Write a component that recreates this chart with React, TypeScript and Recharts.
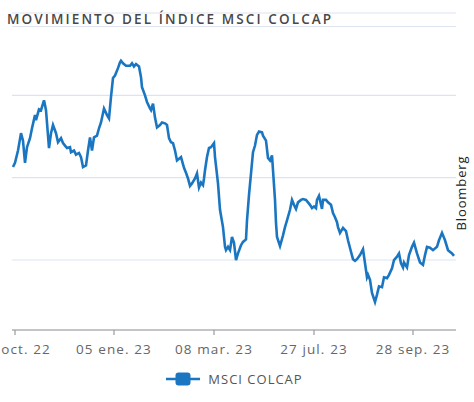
import React from 'react';
import { LineChart, Line, XAxis, YAxis, CartesianGrid, Legend } from 'recharts';

// observation index (trading sessions, relative scale)
const days = [
  1, 3, 6, 9, 11, 13, 15, 18, 20, 23, 24, 27, 29, 32, 34, 37, 39, 41, 44, 46, 49, 51, 53, 55, 58, 59, 62, 64, 67, 69,
  71, 74, 76, 78, 80, 82, 85, 87, 89, 92, 95, 97, 99, 101, 103, 106, 108, 109, 111, 114, 118, 120, 122, 124, 127,
  129, 130, 133, 135, 138, 139, 141, 143, 145, 148, 150, 153, 155, 157, 159, 161, 163, 165, 168, 169, 172, 174, 176,
  178, 180, 183, 185, 187, 189, 191, 192, 193, 195, 197, 199, 202, 203, 206, 208, 211, 213, 214, 216, 218, 220, 222,
  224, 226, 229, 231, 234, 235, 237, 239, 241, 243, 245, 247, 250, 251, 254, 256, 258, 260, 261, 263, 264, 265, 268,
  271, 273, 275, 278, 280, 282, 284, 286, 289, 291, 294, 296, 298, 300, 302, 304, 305, 307, 310, 311, 314, 316, 319,
  321, 323, 325, 326, 328, 331, 334, 336, 339, 341, 343, 345, 348, 351, 353, 355, 356, 358, 360, 363, 365, 367, 370,
  372, 375, 377, 380, 382, 385, 387, 389, 391, 392, 395, 397, 400, 402, 405, 408, 411, 413, 415, 418, 421, 425, 427,
  430, 433, 436, 440, 442,
];

const colcap = [
  1113, 1118, 1133, 1154, 1145, 1118, 1137, 1148, 1160, 1176, 1170, 1183, 1182, 1194, 1182, 1136, 1154, 1164, 1154,
  1143, 1148, 1142, 1139, 1136, 1137, 1131, 1133, 1128, 1130, 1125, 1113, 1115, 1133, 1149, 1133, 1149, 1151, 1160,
  1167, 1184, 1176, 1172, 1198, 1221, 1224, 1233, 1240, 1242, 1239, 1236, 1236, 1239, 1235, 1238, 1235,
  1222, 1210, 1200, 1192, 1184, 1182, 1190, 1173, 1161, 1164, 1167, 1166, 1164, 1148, 1143, 1142, 1133, 1121, 1124,
  1125, 1112, 1106, 1099, 1090, 1093, 1099, 1105, 1088, 1094, 1091, 1099, 1109, 1125, 1136, 1137, 1142, 1125, 1093,
  1061, 1040, 1016, 1012, 1016, 1012, 1028, 1021, 1000, 1008, 1018, 1022, 1025, 1048, 1079, 1105, 1131, 1139, 1152,
  1156, 1155, 1151, 1145, 1124, 1121, 1127, 1109, 1073, 1045, 1028, 1017, 1030, 1040, 1048, 1061, 1073, 1067, 1062,
  1070, 1073, 1074, 1073, 1070, 1067, 1063, 1065, 1063, 1073, 1078, 1062, 1073, 1073, 1070, 1067, 1057, 1052, 1046,
  1040, 1033, 1039, 1035, 1024, 1010, 1001, 999, 1001, 1006, 1013, 996, 979, 982, 976, 960, 949, 958, 968, 967, 979,
  978, 982, 990, 1000, 1004, 1008, 996, 991, 997, 991, 1006, 1016, 1021, 1008, 997, 994, 1006, 1016, 1015, 1012,
  1016, 1024, 1033, 1024, 1012, 1008, 1005,
];

const tickDays = [3, 102, 202, 302, 401];
const tickLabels = ['20 oct. 22', '05 ene. 23', '08 mar. 23', '27 jul. 23', '28 sep. 23'];
const gridValues = [1000, 1100, 1200];
const seriesName = 'MSCI COLCAP';
const title = 'MOVIMIENTO DEL ÍNDICE MSCI COLCAP';
const source = 'Bloomberg';

const data = days.map((d, i) => ({ d, v: colcap[i] }));

const BLUE = '#1b76c2';
const FONT = '"Open Sans", "DejaVu Sans", sans-serif';

const LegendContent = () => (
  <div style={{ display: 'flex', alignItems: 'center', justifyContent: 'center', height: 30 }}>
    <svg width={36} height={16} style={{ marginRight: 7 }}>
      <line x1={1} y1={8} x2={35} y2={8} stroke={BLUE} strokeWidth={2.5} />
      <rect x={10.5} y={1.5} width={15} height={13} rx={3} fill={BLUE} />
    </svg>
    <span style={{ fontFamily: FONT, fontSize: 13, letterSpacing: 1, color: '#555' }}>{seriesName}</span>
  </div>
);

export default function App() {
  const labelFor = (t: number) => tickLabels[tickDays.indexOf(t)] ?? '';
  return (
    <div style={{ position: 'absolute', left: 0, top: 0, width: 474, height: 402, background: '#fff', overflow: 'hidden' }}>
      <div
        style={{
          position: 'absolute',
          left: 7,
          top: 11,
          fontFamily: FONT,
          fontWeight: 600,
          fontSize: 13.5,
          letterSpacing: 2.1,
          lineHeight: '16px',
          color: '#484848',
          whiteSpace: 'nowrap',
          zIndex: 2,
        }}
      >
        {title}
      </div>
      <div style={{ position: 'absolute', left: 12, top: 26, width: 444, height: 1, background: '#dfe5f0', zIndex: 2 }} />
      <div
        style={{
          position: 'absolute',
          left: 411,
          top: 185,
          width: 100,
          height: 16,
          lineHeight: '16px',
          textAlign: 'center',
          fontFamily: FONT,
          fontSize: 13,
          letterSpacing: 0.9,
          color: '#222',
          transform: 'rotate(-90deg)',
          zIndex: 2,
        }}
      >
        {source}
      </div>
      <LineChart width={474} height={402} data={data} margin={{ top: 13, right: 18, left: 12, bottom: 12 }}>
        <CartesianGrid horizontal vertical={false} stroke="#dde4f0" strokeWidth={1.2} />
        <XAxis
          dataKey="d"
          type="number"
          domain={[0, 444]}
          ticks={tickDays}
          interval={0}
          tickFormatter={labelFor}
          height={30}
          tickSize={5}
          tickMargin={9}
          axisLine={{ stroke: '#9a9a9a', strokeWidth: 1.2 }}
          tickLine={{ stroke: '#9a9a9a', strokeWidth: 1.2 }}
          tick={{ fill: '#666', fontSize: 13.5, fontFamily: FONT, letterSpacing: 1.1 }}
        />
        <YAxis hide type="number" domain={[915, 1300]} ticks={gridValues} />
        <Legend verticalAlign="bottom" content={<LegendContent />} wrapperStyle={{ bottom: 8 }} />
        <Line
          type="linear"
          dataKey="v"
          name={seriesName}
          stroke={BLUE}
          strokeWidth={2.6}
          dot={false}
          isAnimationActive={false}
        />
      </LineChart>
    </div>
  );
}
